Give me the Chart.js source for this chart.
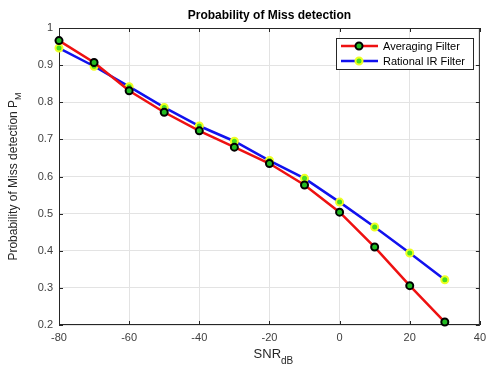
<!DOCTYPE html>
<html>
<head>
<meta charset="utf-8">
<script src="https://cdn.jsdelivr.net/npm/chart.js@4.4.0/dist/chart.umd.min.js"></script>
<style>
  html, body { margin: 0; padding: 0; background: #fff; }
  #wrap { width: 492px; height: 367px; }
</style>
</head>
<body>
<div id="wrap"><canvas id="my-chart" width="492" height="367"></canvas></div>
<script>
'use strict';

// DATA
let snrValues = [-80, -70, -60, -50, -40, -30, -20, -10, 0, 10, 20, 30];
let averagingMiss = [0.966, 0.907, 0.831, 0.773, 0.723, 0.679, 0.635, 0.577, 0.504, 0.410, 0.306, 0.208];
let rationalMiss = [0.946, 0.897, 0.842, 0.786, 0.736, 0.695, 0.643, 0.595, 0.531, 0.464, 0.394, 0.322];
let seriesNames = ['Averaging Filter', 'Rational IR Filter'];
let xTicks = [-80, -60, -40, -20, 0, 20, 40];
let yTicks = [0.2, 0.3, 0.4, 0.5, 0.6, 0.7, 0.8, 0.9, 1];

let FONT = '"Liberation Sans", Arial, sans-serif';
let canvasElem = document.getElementById('my-chart');

function toPoints(ys) {
  let pts = [];
  for (let i = 0; i < snrValues.length; i++) {
    pts.push({ x: snrValues[i], y: ys[i] });
  }
  return pts;
}

// box, title, axis labels and legend drawn like matlab
let matlabDecor = {
  id: 'matlabDecor',
  beforeDatasetsDraw(chart) {
    let ctx = chart.ctx;
    let a = chart.chartArea;
    ctx.save();

    // axes box
    ctx.strokeStyle = '#262626';
    ctx.lineWidth = 1;
    ctx.strokeRect(a.left + 0.5, a.top + 0.5, a.right - a.left - 1, a.bottom - a.top - 1);

    // inner tick marks
    let xs = chart.scales.x;
    let ys = chart.scales.y;
    ctx.beginPath();
    xTicks.forEach(function (t) {
      let px = Math.round(xs.getPixelForValue(t)) + 0.5;
      ctx.moveTo(px, a.bottom); ctx.lineTo(px, a.bottom - 4);
      ctx.moveTo(px, a.top); ctx.lineTo(px, a.top + 4);
    });
    yTicks.forEach(function (t) {
      let py = Math.round(ys.getPixelForValue(t)) + 0.5;
      ctx.moveTo(a.left, py); ctx.lineTo(a.left + 4, py);
      ctx.moveTo(a.right, py); ctx.lineTo(a.right - 4, py);
    });
    ctx.stroke();
    ctx.restore();
  },
  afterDraw(chart) {
    let ctx = chart.ctx;
    let a = chart.chartArea;
    ctx.save();
    let cx = (a.left + a.right) / 2;

    // title
    ctx.fillStyle = '#000';
    ctx.font = 'bold 12px ' + FONT;
    ctx.textAlign = 'center';
    ctx.textBaseline = 'alphabetic';
    ctx.fillText('Probability of Miss detection', cx, 19);

    // x label with subscript
    ctx.fillStyle = '#262626';
    let main = 'SNR';
    ctx.font = '13px ' + FONT;
    let w1 = ctx.measureText(main).width;
    ctx.font = '10px ' + FONT;
    let w2 = ctx.measureText('dB').width;
    let startX = cx - (w1 + w2) / 2 + 4;
    ctx.textAlign = 'left';
    ctx.font = '13px ' + FONT;
    ctx.fillText(main, startX, 358);
    ctx.font = '10px ' + FONT;
    ctx.fillText('dB', startX + w1, 364);

    // y label rotated
    ctx.save();
    ctx.translate(17, (a.top + a.bottom) / 2);
    ctx.rotate(-Math.PI / 2);
    ctx.font = '12px ' + FONT;
    let ym = 'Probability of Miss detection P';
    let yw1 = ctx.measureText(ym).width;
    ctx.font = '9px ' + FONT;
    let yw2 = ctx.measureText('M').width;
    let sy = -(yw1 + yw2) / 2;
    ctx.font = '12px ' + FONT;
    ctx.fillText(ym, sy, 0);
    ctx.font = '9px ' + FONT;
    ctx.fillText('M', sy + yw1, 4);
    ctx.restore();

    // legend
    let lx = 336, ly = 38, lw = 137, lh = 31;
    ctx.fillStyle = '#fff';
    ctx.fillRect(lx, ly, lw, lh);
    ctx.strokeStyle = '#262626';
    ctx.lineWidth = 1;
    ctx.strokeRect(lx + 0.5, ly + 0.5, lw, lh);
    let ds = chart.data.datasets;
    ctx.font = '11px ' + FONT;
    ctx.textBaseline = 'middle';
    for (let i = 0; i < ds.length; i++) {
      let rowY = ly + 8 + i * 15;
      ctx.strokeStyle = ds[i].borderColor;
      ctx.lineWidth = 2.5;
      ctx.beginPath();
      ctx.moveTo(lx + 5, rowY);
      ctx.lineTo(lx + 42, rowY);
      ctx.stroke();
      ctx.beginPath();
      ctx.arc(lx + 23, rowY, 3.5, 0, Math.PI * 2);
      ctx.fillStyle = ds[i].pointBackgroundColor;
      ctx.fill();
      ctx.lineWidth = 2;
      ctx.strokeStyle = ds[i].pointBorderColor;
      ctx.stroke();
      ctx.fillStyle = '#000';
      ctx.fillText(seriesNames[i], lx + 47, rowY + 1);
    }
    ctx.restore();
  }
};

let theChart = {
  type: 'line',
  data: {
    datasets: [{
      label: seriesNames[0],
      data: toPoints(averagingMiss),
      borderColor: '#ee1111',
      borderWidth: 2.5,
      pointRadius: 3.5,
      pointBorderWidth: 2,
      pointBackgroundColor: '#22bb22',
      pointBorderColor: '#000000',
      tension: 0,
      clip: false
    },
    {
      label: seriesNames[1],
      data: toPoints(rationalMiss),
      borderColor: '#1111ee',
      borderWidth: 2.5,
      pointRadius: 3.5,
      pointBorderWidth: 2,
      pointBackgroundColor: '#44dd22',
      pointBorderColor: '#eeff22',
      tension: 0,
      clip: false
    }]
  },
  options: {
    responsive: false,
    animation: false,
    layout: { padding: { top: 28, right: 7, left: 0, bottom: 0 } },
    plugins: {
      legend: { display: false },
      title: { display: false },
      tooltip: { enabled: false }
    },
    scales: {
      x: {
        type: 'linear',
        min: -80,
        max: 40,
        afterBuildTicks: function (axis) {
          axis.ticks = xTicks.map(function (v) { return { value: v }; });
        },
        afterFit: function (axis) { axis.height = 42; },
        grid: { color: '#e3e3e3', drawTicks: false },
        border: { display: false },
        ticks: {
          padding: 6,
          color: '#404040',
          font: { family: FONT, size: 11 },
          maxRotation: 0
        }
      },
      y: {
        type: 'linear',
        min: 0.2,
        max: 1,
        afterBuildTicks: function (axis) {
          axis.ticks = yTicks.map(function (v) { return { value: v }; });
        },
        afterFit: function (axis) { axis.width = 59; },
        grid: { color: '#e3e3e3', drawTicks: false },
        border: { display: false },
        ticks: {
          padding: 6,
          color: '#404040',
          font: { family: FONT, size: 11 },
          callback: function (v) { return String(Math.round(v * 10) / 10); }
        }
      }
    }
  },
  plugins: [matlabDecor]
};

new Chart(canvasElem, theChart);
</script>
</body>
</html>
